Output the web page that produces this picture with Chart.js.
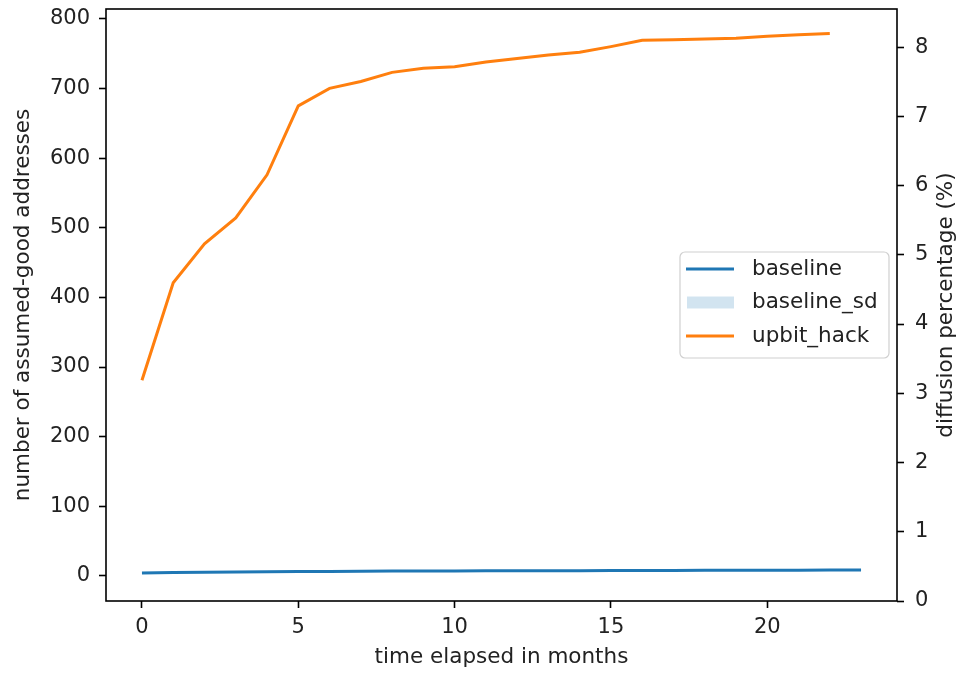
<!DOCTYPE html>
<html>
<head>
<meta charset="utf-8">
<script src="https://cdn.jsdelivr.net/npm/chart.js@4.4.1/dist/chart.umd.min.js"></script>
<style>
  html, body { margin: 0; padding: 0; background: #fff; }
  #wrap { width: 964px; height: 675px; }
</style>
</head>
<body>
<div id="wrap"><canvas id="grafico" width="964" height="675"></canvas></div>
<script>
// values
const meses = [0, 1, 2, 3, 4, 5, 6, 7, 8, 9, 10, 11, 12, 13, 14, 15, 16, 17, 18, 19, 20, 21, 22, 23];
const baseline = [4.3, 5.0, 5.4, 5.8, 6.1, 6.4, 6.6, 6.8, 7.0, 7.2, 7.3, 7.4, 7.5, 7.6, 7.7, 7.8, 7.9, 8.0, 8.1, 8.2, 8.3, 8.4, 8.5, 8.6];
const baselineSdLow = [4.0, 4.7, 5.1, 5.5, 5.8, 6.1, 6.3, 6.5, 6.7, 6.9, 7.0, 7.1, 7.2, 7.3, 7.4, 7.5, 7.6, 7.7, 7.8, 7.9, 8.0, 8.1, 8.2, 8.3];
const baselineSdHigh = [4.6, 5.3, 5.7, 6.1, 6.4, 6.7, 6.9, 7.1, 7.3, 7.5, 7.6, 7.7, 7.8, 7.9, 8.0, 8.1, 8.2, 8.3, 8.4, 8.5, 8.6, 8.7, 8.8, 8.9];
const upbitHack = [281, 421, 477, 514, 576, 675, 700, 710, 723, 729, 731, 738, 743, 748, 752, 760, 769, 770, 771, 772, 775, 777, 779];

const xTicks = [0, 5, 10, 15, 20];
const yTicks = [0, 100, 200, 300, 400, 500, 600, 700, 800];
const y2Ticks = [0, 1, 2, 3, 4, 5, 6, 7, 8];

const AZUL = "#1f77b4";
const LARANJA = "#ff7f0e";
const FONTE = "'DejaVu Sans', sans-serif";

function pontos(vals) {
  return vals.map((v, i) => ({ x: meses[i], y: v }));
}

function fixarTicks(lista) {
  return function (scale) {
    scale.ticks = lista.map(v => ({ value: v }));
  };
}

const tickFont = { family: FONTE, size: 21 };

// frame, axis titles and the legend drawn on top
const extras = {
  id: "extras",
  afterDraw(chart) {
    const ctx = chart.ctx;
    const a = chart.chartArea;
    ctx.save();
    ctx.strokeStyle = "#000";
    ctx.lineWidth = 1.6;
    ctx.strokeRect(a.left, a.top, a.right - a.left, a.bottom - a.top);

    ctx.fillStyle = "#222";
    ctx.font = "21.5px " + FONTE;
    ctx.textAlign = "center";
    ctx.textBaseline = "middle";
    ctx.fillText("time elapsed in months", (a.left + a.right) / 2, 657);

    ctx.save();
    ctx.translate(23, (a.top + a.bottom) / 2);
    ctx.rotate(-Math.PI / 2);
    ctx.fillText("number of assumed-good addresses", 0, 0);
    ctx.restore();

    ctx.save();
    ctx.translate(946, (a.top + a.bottom) / 2);
    ctx.rotate(-Math.PI / 2);
    ctx.fillText("diffusion percentage (%)", 0, 0);
    ctx.restore();

    // legend
    const bx = 680, by = 252, bw = 209, bh = 106;
    ctx.beginPath();
    ctx.roundRect(bx, by, bw, bh, 5);
    ctx.fillStyle = "rgba(255,255,255,0.85)";
    ctx.fill();
    ctx.strokeStyle = "#d0d0d0";
    ctx.lineWidth = 1.2;
    ctx.stroke();

    const itens = chart.data.datasets.filter(d => !d.semLegenda);
    itens.forEach((d, i) => {
      const yy = 269 + i * 33.5;
      if (d.fill) {
        ctx.fillStyle = d.backgroundColor;
        ctx.fillRect(687, yy - 6, 47, 12);
      } else {
        ctx.strokeStyle = d.borderColor;
        ctx.lineWidth = 3;
        ctx.beginPath();
        ctx.moveTo(686, yy);
        ctx.lineTo(734, yy);
        ctx.stroke();
      }
      ctx.fillStyle = "#222";
      ctx.textAlign = "left";
      ctx.font = "21.5px " + FONTE;
      ctx.fillText(d.label, 752, yy);
    });
    ctx.restore();
  }
};

function semPaddingVertical(largura) {
  return function (s) {
    s.width = largura;
    s.paddingTop = 0;
    s.paddingBottom = 0;
  };
}

new Chart(document.getElementById("grafico"), {
  type: "line",
  data: {
    datasets: [
      {
        label: "baseline",
        data: pontos(baseline),
        borderColor: AZUL,
        borderWidth: 3,
        pointRadius: 0,
        fill: false,
        yAxisID: "y"
      },
      {
        label: "baseline_sd",
        data: pontos(baselineSdHigh),
        borderWidth: 0,
        borderColor: "rgba(0,0,0,0)",
        backgroundColor: "rgba(31,119,180,0.2)",
        pointRadius: 0,
        fill: "+1",
        yAxisID: "y"
      },
      {
        label: "baseline_sd_low",
        semLegenda: true,
        data: pontos(baselineSdLow),
        borderWidth: 0,
        borderColor: "rgba(0,0,0,0)",
        pointRadius: 0,
        fill: false,
        yAxisID: "y"
      },
      {
        label: "upbit_hack",
        data: pontos(upbitHack),
        borderColor: LARANJA,
        borderWidth: 3,
        pointRadius: 0,
        fill: false,
        yAxisID: "y"
      }
    ]
  },
  options: {
    responsive: false,
    animation: false,
    layout: { padding: { top: 9, left: 0, right: 0, bottom: 0 } },
    plugins: {
      legend: { display: false },
      tooltip: { enabled: false }
    },
    scales: {
      x: {
        type: "linear",
        min: -1.15,
        max: 24.15,
        afterBuildTicks: fixarTicks(xTicks),
        afterFit(s) { s.height = 74; },
        border: { display: false },
        grid: { drawOnChartArea: false, drawTicks: true, tickLength: 7, tickWidth: 1.6, tickColor: "#000" },
        ticks: { font: tickFont, color: "#222", padding: 7, maxRotation: 0 }
      },
      y: {
        type: "linear",
        position: "left",
        min: -35.9,
        max: 814,
        afterBuildTicks: fixarTicks(yTicks),
        afterFit: semPaddingVertical(106),
        border: { display: false },
        grid: { drawOnChartArea: false, drawTicks: true, tickLength: 7, tickWidth: 1.6, tickColor: "#000" },
        ticks: { font: tickFont, color: "#222", padding: 9 }
      },
      y2: {
        type: "linear",
        position: "right",
        display: true,
        min: 0,
        max: 8.55,
        afterBuildTicks: fixarTicks(y2Ticks),
        afterFit: semPaddingVertical(67),
        border: { display: false },
        grid: { drawOnChartArea: false, drawTicks: true, tickLength: 7, tickWidth: 1.6, tickColor: "#000" },
        ticks: { font: tickFont, color: "#222", padding: 11 }
      }
    }
  },
  plugins: [extras]
});
</script>
</body>
</html>
